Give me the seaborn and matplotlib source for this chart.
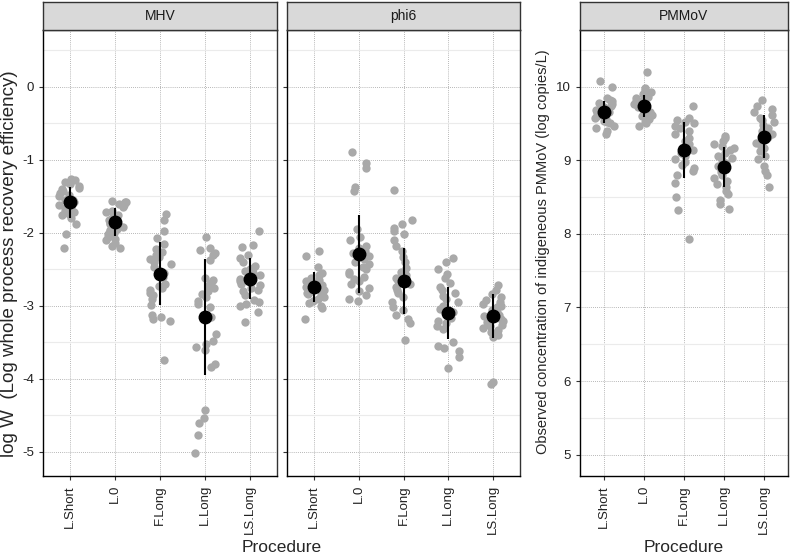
import numpy as np
import pandas as pd
import seaborn as sns
from matplotlib import pyplot as plt
from matplotlib.ticker import MultipleLocator

procedures = ["L.Short", "L.0", "F.Long", "L.Long", "LS.Long"]
panels = ["MHV", "phi6", "PMMoV"]

mhv_lshort = [-1.26, -1.28, -1.30, -1.33, -1.36, -1.38, -1.40, -1.42, -1.45, -1.48, -1.50, -1.52, -1.55, -1.55,
              -1.58, -1.60, -1.62, -1.64, -1.66, -1.68, -1.70, -1.72, -1.74, -1.76, -1.80, -1.88, -2.01, -2.21]
mhv_l0 = [-1.56, -1.57, -1.58, -1.60, -1.62, -1.65, -1.70, -1.72, -1.75, -1.78, -1.80, -1.82, -1.84, -1.85, -1.86,
          -1.88, -1.90, -1.92, -1.94, -1.96, -1.98, -2.00, -2.02, -2.05, -2.08, -2.10, -2.14, -2.18, -2.20]
mhv_flong = [-1.74, -1.82, -1.97, -2.07, -2.15, -2.22, -2.26, -2.30, -2.33, -2.36, -2.40, -2.43, -2.47, -2.55,
             -2.60, -2.70, -2.73, -2.75, -2.78, -2.82, -2.85, -2.90, -2.99, -3.12, -3.15, -3.18, -3.21, -3.74]
mhv_llong = [-2.05, -2.20, -2.23, -2.27, -2.30, -2.37, -2.62, -2.65, -2.68, -2.72, -2.76, -2.80, -2.84, -2.88,
             -2.93, -2.97, -3.02, -3.15, -3.38, -3.48, -3.52, -3.56, -3.60, -3.80, -3.83, -4.43, -4.53, -4.60,
             -4.77, -5.02]
mhv_lslong = [-1.98, -2.17, -2.19, -2.30, -2.35, -2.40, -2.45, -2.48, -2.50, -2.52, -2.55, -2.58, -2.60, -2.63,
              -2.66, -2.70, -2.72, -2.75, -2.78, -2.80, -2.85, -2.92, -2.95, -2.97, -3.00, -3.08, -3.22]

phi6_lshort = [-2.25, -2.31, -2.47, -2.55, -2.58, -2.62, -2.65, -2.66, -2.68, -2.70, -2.72, -2.74, -2.76, -2.76,
               -2.78, -2.80, -2.82, -2.84, -2.85, -2.88, -2.90, -2.93, -2.96, -3.00, -3.03, -3.18]
phi6_l0 = [-0.89, -1.04, -1.11, -1.37, -1.42, -1.95, -2.05, -2.10, -2.18, -2.20, -2.25, -2.28, -2.32, -2.36,
           -2.40, -2.43, -2.46, -2.50, -2.53, -2.56, -2.60, -2.63, -2.66, -2.70, -2.75, -2.80, -2.85, -2.90, -2.93]
phi6_flong = [-1.41, -1.82, -1.88, -1.93, -1.98, -2.02, -2.10, -2.18, -2.25, -2.33, -2.40, -2.48, -2.53, -2.58,
              -2.62, -2.66, -2.70, -2.74, -2.78, -2.82, -2.88, -2.95, -3.02, -3.06, -3.12, -3.18, -3.23, -3.47]
phi6_llong = [-2.34, -2.40, -2.50, -2.56, -2.62, -2.68, -2.74, -2.78, -2.82, -2.86, -2.90, -2.95, -3.00, -3.04,
              -3.08, -3.12, -3.16, -3.20, -3.24, -3.28, -3.32, -3.50, -3.55, -3.58, -3.62, -3.70, -3.85]
phi6_lslong = [-2.72, -2.78, -2.84, -2.88, -2.92, -2.95, -2.98, -3.00, -3.02, -3.05, -3.08, -3.10, -3.12, -3.14,
               -3.16, -3.18, -3.20, -3.22, -3.24, -3.26, -3.28, -3.30, -3.33, -3.36, -3.40, -3.43, -4.04, -4.07]

pmmov_lshort = [10.08, 9.99, 9.85, 9.82, 9.80, 9.78, 9.76, 9.74, 9.72, 9.70, 9.68, 9.66, 9.64, 9.62, 9.60, 9.58,
                9.56, 9.54, 9.52, 9.50, 9.47, 9.44, 9.40, 9.36]
pmmov_l0 = [10.20, 9.98, 9.95, 9.93, 9.90, 9.88, 9.86, 9.84, 9.82, 9.80, 9.78, 9.76, 9.74, 9.72, 9.70, 9.68,
            9.66, 9.64, 9.62, 9.60, 9.56, 9.52, 9.50, 9.47]
pmmov_flong = [9.74, 9.58, 9.55, 9.52, 9.50, 9.47, 9.44, 9.40, 9.36, 9.30, 9.26, 9.22, 9.18, 9.14, 9.10, 9.06,
               9.02, 8.98, 8.94, 8.90, 8.85, 8.80, 8.69, 8.50, 8.32, 7.93]
pmmov_llong = [9.33, 9.30, 9.26, 9.22, 9.20, 9.17, 9.14, 9.10, 9.06, 9.03, 9.00, 8.96, 8.92, 8.88, 8.84, 8.80,
               8.76, 8.72, 8.68, 8.64, 8.58, 8.54, 8.46, 8.40, 8.34]
pmmov_lslong = [9.82, 9.74, 9.70, 9.66, 9.62, 9.58, 9.55, 9.52, 9.48, 9.44, 9.40, 9.36, 9.32, 9.28, 9.24, 9.20,
                9.16, 9.12, 9.06, 9.02, 8.92, 8.86, 8.80, 8.63]

# mean and sd (error bars)
mhv_mean = [-1.58, -1.85, -2.56, -3.15, -2.63]
mhv_sd = [0.21, 0.19, 0.43, 0.79, 0.28]
phi6_mean = [-2.74, -2.29, -2.66, -3.10, -3.14]
phi6_sd = [0.20, 0.53, 0.45, 0.36, 0.30]
pmmov_mean = [9.66, 9.74, 9.14, 8.91, 9.32]
pmmov_sd = [0.15, 0.15, 0.38, 0.27, 0.29]

raw = {
    "MHV": [mhv_lshort, mhv_l0, mhv_flong, mhv_llong, mhv_lslong],
    "phi6": [phi6_lshort, phi6_l0, phi6_flong, phi6_llong, phi6_lslong],
    "PMMoV": [pmmov_lshort, pmmov_l0, pmmov_flong, pmmov_llong, pmmov_lslong],
}
stats = {"MHV": (mhv_mean, mhv_sd), "phi6": (phi6_mean, phi6_sd), "PMMoV": (pmmov_mean, pmmov_sd)}

rows = []
for target in panels:
    for proc, vals in zip(procedures, raw[target]):
        for v in vals:
            rows.append((target, proc, v))
data = pd.DataFrame(rows, columns=["target", "procedure", "value"])

sns.set_style("white")
plt.rcParams['font.family'] = ['Liberation Sans', 'DejaVu Sans']
plt.rcParams['axes.unicode_minus'] = False
np.random.seed(3)

W, H = 790, 558
fig = plt.figure(figsize=(W / 100, H / 100), dpi=100)

# panel boxes in pixels: left, right
boxes = {"MHV": (43, 277), "phi6": (287, 520), "PMMoV": (580, 788)}
top, bottom, strip_top = 30, 476, 2

axes = {}
for target in panels:
    x0, x1 = boxes[target]
    ax = fig.add_axes([x0 / W, 1 - bottom / H, (x1 - x0) / W, (bottom - top) / H])
    axes[target] = ax
    sub = data[data.target == target]
    sns.stripplot(data=sub, x="procedure", y="value", order=procedures, color="#A9A9A9",
                  jitter=0.25, size=6, linewidth=0, ax=ax, zorder=3)
    mean, sd = stats[target]
    ax.errorbar(range(len(procedures)), mean, yerr=sd, fmt="o", color="black", ms=9,
                elinewidth=1.5, capsize=0, zorder=4)

    ax.set_xlim(-0.6, 4.6)
    if target == "PMMoV":
        ax.set_ylim(4.71, 10.77)
        ax.set_yticks([5, 6, 7, 8, 9, 10])
    else:
        ax.set_ylim(-5.33, 0.78)
        ax.set_yticks([0, -1, -2, -3, -4, -5])
    ax.yaxis.set_minor_locator(MultipleLocator(0.5))
    ax.grid(which="major", axis="both", color="#A0A0A0", linestyle=(0, (1, 1.5)), linewidth=0.6)
    ax.grid(which="minor", axis="y", color="#EBEBEB", linestyle="-", linewidth=0.8)
    ax.set_axisbelow(True)
    for s in ax.spines.values():
        s.set_color("#333333")
        s.set_linewidth(1.0)
    ax.spines["left"].set_color("black")
    ax.spines["bottom"].set_color("black")
    ax.tick_params(axis="both", which="major", length=3, width=0.8, color="#333333",
                   labelsize=9.5, labelcolor="#222222", left=True, bottom=True)
    ax.tick_params(axis="y", which="minor", length=0)
    ax.tick_params(axis="x", rotation=90)
    ax.set_xlabel("")
    ax.set_ylabel("")

    # strip on top
    sax = fig.add_axes([x0 / W, 1 - top / H, (x1 - x0) / W, (top - strip_top) / H])
    sax.set_facecolor("#D9D9D9")
    sax.set_xticks([])
    sax.set_yticks([])
    for s in sax.spines.values():
        s.set_color("#333333")
        s.set_linewidth(1.0)
    sax.text(0.5, 0.5, target, ha="center", va="center", fontsize=10, color="#1A1A1A",
             transform=sax.transAxes)

axes["phi6"].tick_params(axis="y", labelleft=False)

fig.text(10 / W, 1 - 264 / H, "log W  (Log whole process recovery efficiency)", rotation=90,
         ha="center", va="center", fontsize=13.5)
fig.text(543 / W, 1 - 252 / H, "Observed concentration of indigeneous PMMoV (log copies/L)", rotation=90,
         ha="center", va="center", fontsize=10.5)

fig.text(281.5 / W, 1 - 548 / H, "Procedure", ha="center", va="center", fontsize=12.5)
fig.text(684 / W, 1 - 548 / H, "Procedure", ha="center", va="center", fontsize=12.5)

fig.savefig("out.png", dpi=100)
